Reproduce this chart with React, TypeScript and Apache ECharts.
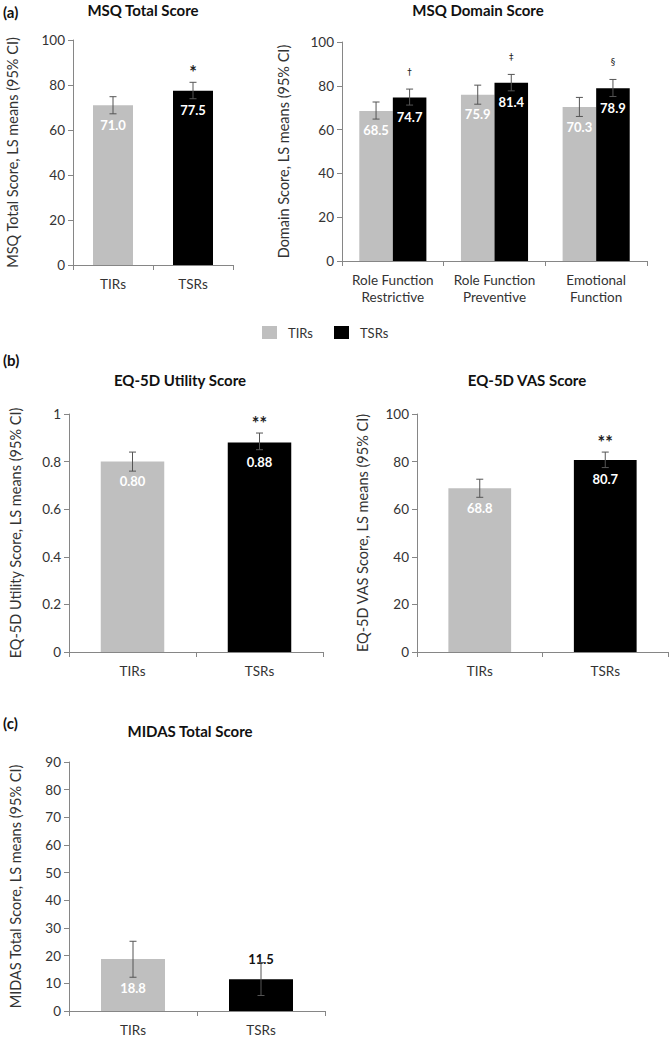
import React, { useEffect, useRef } from "react";
import * as echarts from "echarts";

// ---------- data ----------
const groups = ["TIRs", "TSRs"];
const domainCategories = ["Role Function\nRestrictive", "Role Function\nPreventive", "Emotional\nFunction"];

// (a) MSQ Total Score
const msqTotalMeans = [71.0, 77.5];
const msqTotalLow = [67.2, 73.9];
const msqTotalHigh = [74.8, 81.2];
const msqTotalSig = ["", "*"];
const msqTicks = { min: 0, max: 100, interval: 20 };

// (a) MSQ Domain Score
const domainTIRs = [68.5, 75.9, 70.3];
const domainTIRsLow = [64.8, 71.6, 66.0];
const domainTIRsHigh = [72.6, 80.3, 74.7];
const domainTSRs = [74.7, 81.4, 78.9];
const domainTSRsLow = [71.2, 77.7, 75.1];
const domainTSRsHigh = [78.5, 85.2, 82.9];
const domainSig = ["†", "‡", "§"];

// (b) EQ-5D Utility Score
const utilityMeans = [0.8, 0.88];
const utilityLow = [0.76, 0.85];
const utilityHigh = [0.84, 0.92];
const utilitySig = ["", "**"];
const utilityTicks = { min: 0, max: 1, interval: 0.2 };

// (b) EQ-5D VAS Score
const vasMeans = [68.8, 80.7];
const vasLow = [65.0, 77.5];
const vasHigh = [72.6, 84.0];
const vasSig = ["", "**"];

// (c) MIDAS Total Score
const midasMeans = [18.8, 11.5];
const midasLow = [12.2, 5.6];
const midasHigh = [25.2, 17.5];
const midasSig = ["", ""];
const midasTicks = { min: 0, max: 90, interval: 10 };

// ---------- styles ----------
const FONT = "Lato, 'Open Sans', sans-serif";
const SYMBOL_FONT = "'DejaVu Sans', 'Liberation Sans', sans-serif";
const GRAY = "#bfbfbf";
const BLACK = "#000000";
const AXIS = "#868686";
const TEXT = "#333333";
const ERR = "#555555";

const grids = [
  { left: 73, top: 40, width: 160, height: 225 },
  { left: 342, top: 42, width: 305, height: 219 },
  { left: 69, top: 414, width: 254, height: 238 },
  { left: 417, top: 414, width: 251, height: 238 },
  { left: 69, top: 762, width: 256, height: 253 },
];

function xAxis(idx: number, data: string[]) {
  return {
    type: "category",
    gridIndex: idx,
    data,
    axisLine: { lineStyle: { color: AXIS, width: 1 } },
    axisTick: { show: true, length: 5, lineStyle: { color: AXIS } },
    axisLabel: {
      color: TEXT,
      fontSize: 13.5,
      fontFamily: FONT,
      margin: 10,
      lineHeight: 17,
      interval: 0,
      hideOverlap: false,
    },
    splitLine: { show: false },
  };
}

function yAxis(idx: number, name: string, ticks: { min: number; max: number; interval: number }, nameGap: number) {
  return {
    type: "value",
    gridIndex: idx,
    min: ticks.min,
    max: ticks.max,
    interval: ticks.interval,
    name,
    nameLocation: "middle",
    nameGap,
    nameTextStyle: { color: TEXT, fontSize: 14.5, fontFamily: FONT },
    axisLine: { show: true, lineStyle: { color: AXIS, width: 1 } },
    axisTick: { show: true, length: 5, lineStyle: { color: AXIS } },
    axisLabel: { color: TEXT, fontSize: 13.5, fontFamily: FONT, margin: 8 },
    splitLine: { show: false },
  };
}

function valueLabel(decimals: number, distance = 13) {
  return {
    show: true,
    position: "insideTop",
    distance,
    color: "#ffffff",
    fontWeight: "bold",
    fontSize: 13,
    fontFamily: FONT,
    formatter: (p: any) => (p.value === "-" || p.value == null ? "" : Number(p.value).toFixed(decimals)),
  };
}

function pairBars(idx: number, means: number[], decimals: number, overrides: any[] = [{}, {}]) {
  const mk = (gi: number) =>
    means.map((v, i) => (i === gi ? { value: v, label: overrides[gi].label } : "-"));
  return [
    {
      type: "bar",
      name: groups[0],
      xAxisIndex: idx,
      yAxisIndex: idx,
      barWidth: "50%",
      barGap: "-100%",
      itemStyle: { color: GRAY },
      label: valueLabel(decimals),
      data: mk(0),
    },
    {
      type: "bar",
      name: groups[1],
      xAxisIndex: idx,
      yAxisIndex: idx,
      barWidth: "50%",
      barGap: "-100%",
      itemStyle: { color: BLACK },
      label: valueLabel(decimals),
      data: mk(1),
    },
  ];
}

function errorBars(
  idx: number,
  lows: number[],
  highs: number[],
  sigs: string[],
  offset: number,
  sigFont: { size: number; gap: number; weight: string; family: string }
) {
  return {
    type: "custom",
    xAxisIndex: idx,
    yAxisIndex: idx,
    z: 10,
    silent: true,
    data: lows.map((l, i) => [i, l, highs[i]]),
    renderItem: (params: any, api: any) => {
      const i = api.value(0);
      const lo = api.coord([i, api.value(1)]);
      const hi = api.coord([i, api.value(2)]);
      const band = api.size([1, 0])[0];
      const x = lo[0] + offset * band;
      const cap = 3.5;
      const st = { stroke: ERR, lineWidth: 1 };
      const children: any[] = [
        { type: "line", shape: { x1: x, y1: lo[1], x2: x, y2: hi[1] }, style: st },
        { type: "line", shape: { x1: x - cap, y1: hi[1], x2: x + cap, y2: hi[1] }, style: st },
        { type: "line", shape: { x1: x - cap, y1: lo[1], x2: x + cap, y2: lo[1] }, style: st },
      ];
      const s = sigs[params.dataIndex];
      if (s) {
        children.push({
          type: "text",
          x,
          y: hi[1] - sigFont.gap,
          style: {
            text: s,
            align: "center",
            verticalAlign: "middle",
            fontSize: sigFont.size,
            fontWeight: sigFont.weight,
            fontFamily: sigFont.family,
            fill: "#222222",
          },
        });
      }
      return { type: "group", children };
    },
  };
}

function titleText(text: string, x: number, y: number, align = "center", size = 15) {
  return {
    type: "text",
    x,
    y,
    style: {
      text,
      textAlign: align,
      textVerticalAlign: "middle",
      font: `bold ${size}px ${FONT}`,
      fill: "#111111",
    },
  };
}

export default function App() {
  const ref = useRef<HTMLDivElement>(null);

  useEffect(() => {
    document.body.style.margin = "0";
    if (!ref.current) return;
    const chart = echarts.init(ref.current, undefined, { renderer: "svg" });

    const starFont = { size: 18, gap: 10, weight: "bold", family: FONT };
    const smallFont = { size: 9, gap: 17, weight: "normal", family: SYMBOL_FONT };

    const option: any = {
      animation: false,
      backgroundColor: "#ffffff",
      textStyle: { fontFamily: FONT },
      legend: {
        data: groups,
        left: 257,
        top: 321,
        itemWidth: 15,
        itemHeight: 13,
        itemGap: 21,
        icon: "rect",
        textStyle: { color: TEXT, fontSize: 13, fontFamily: FONT, padding: [0, 0, 0, 6] },
        selectedMode: false,
      },
      grid: grids.map((g) => ({ ...g, containLabel: false })),
      xAxis: [
        xAxis(0, groups),
        xAxis(1, domainCategories),
        xAxis(2, groups),
        xAxis(3, groups),
        xAxis(4, groups),
      ],
      yAxis: [
        yAxis(0, "MSQ Total Score, LS means (95% CI)", msqTicks, 53),
        yAxis(1, "Domain Score, LS means (95% CI)", msqTicks, 51),
        yAxis(2, "EQ-5D Utility Score, LS means (95% CI)", utilityTicks, 46),
        yAxis(3, "EQ-5D VAS Score, LS means (95% CI)", msqTicks, 47),
        yAxis(4, "MIDAS Total Score, LS means (95% CI)", midasTicks, 46),
      ],
      series: [
        ...pairBars(0, msqTotalMeans, 1),
        errorBars(0, msqTotalLow, msqTotalHigh, msqTotalSig, 0, starFont),
        {
          type: "bar",
          name: groups[0],
          xAxisIndex: 1,
          yAxisIndex: 1,
          barCategoryGap: "34%",
          barGap: "0%",
          itemStyle: { color: GRAY },
          label: valueLabel(1),
          data: domainTIRs,
        },
        {
          type: "bar",
          name: groups[1],
          xAxisIndex: 1,
          yAxisIndex: 1,
          barCategoryGap: "34%",
          barGap: "0%",
          itemStyle: { color: BLACK },
          label: valueLabel(1),
          data: domainTSRs,
        },
        errorBars(1, domainTIRsLow, domainTIRsHigh, ["", "", ""], -0.165, smallFont),
        errorBars(1, domainTSRsLow, domainTSRsHigh, domainSig, 0.165, smallFont),
        ...pairBars(2, utilityMeans, 2),
        errorBars(2, utilityLow, utilityHigh, utilitySig, 0, starFont),
        ...pairBars(3, vasMeans, 1),
        errorBars(3, vasLow, vasHigh, vasSig, 0, starFont),
        ...pairBars(4, midasMeans, 1, [
          { label: { position: "insideTop", distance: 23 } },
          { label: { position: "top", distance: 14, color: "#111111" } },
        ]),
        errorBars(4, midasLow, midasHigh, midasSig, 0, starFont),
      ],
      graphic: [
        titleText("(a)", 3, 12, "left", 15),
        titleText("MSQ Total Score", 143, 10),
        titleText("MSQ Domain Score", 478, 10),
        titleText("(b)", 3, 360, "left", 15),
        titleText("EQ-5D Utility Score", 180, 380),
        titleText("EQ-5D VAS Score", 527, 380),
        titleText("(c)", 3, 723, "left", 15),
        titleText("MIDAS Total Score", 190, 731),
      ],
    };

    chart.setOption(option);
    return () => chart.dispose();
  }, []);

  return <div ref={ref} style={{ width: 669, height: 1038 }} />;
}
